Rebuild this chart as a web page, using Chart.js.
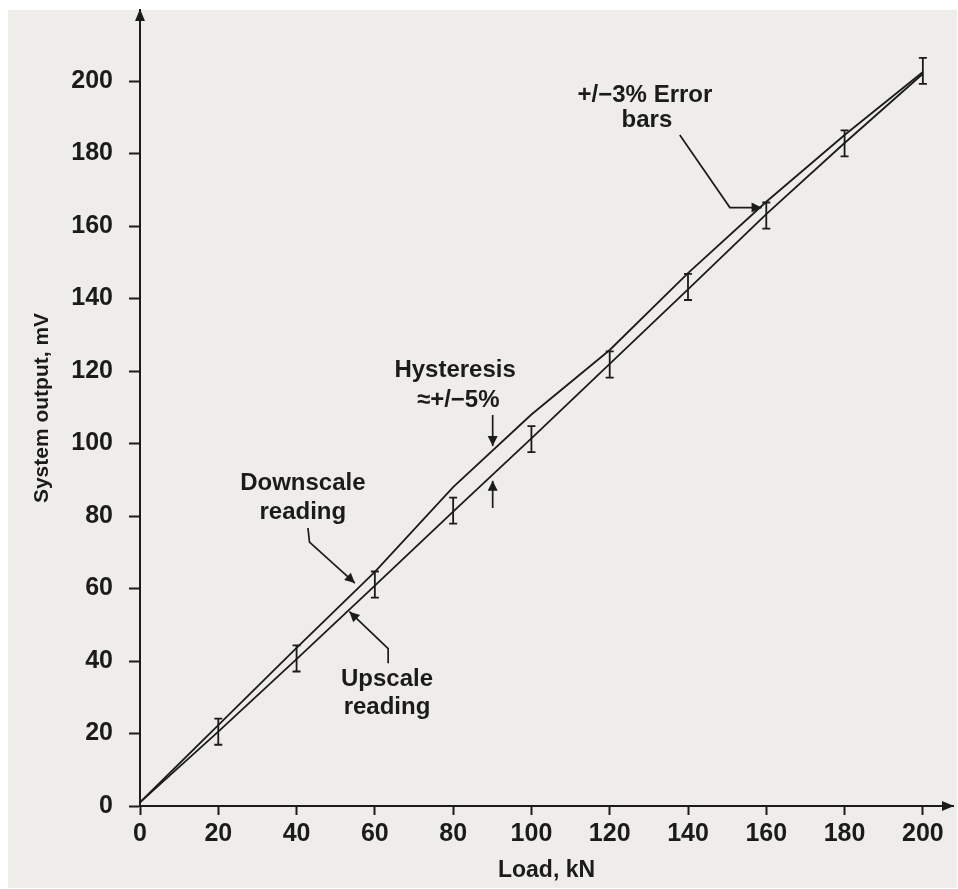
<!DOCTYPE html>
<html lang="en">
<head>
    <meta charset="UTF-8">
    <title>System output vs load</title>
    <script src="https://cdn.jsdelivr.net/npm/chart.js@4.4.0/dist/chart.umd.min.js"></script>
    <style>
        body { margin: 0; background: #ffffff; }
        canvas { display: block; }
    </style>
</head>
<body>
    <canvas id="myChart" width="958" height="889"></canvas>
    <script>
        // readings taken off the scanned figure
        const loads = [0, 20, 40, 60, 80, 100, 120, 140, 160, 180, 200];
        const downscale = [1, 22.3, 43.6, 64.6, 88, 108, 125.8, 147, 166.7, 185.1, 202.5];
        const upscale = [1, 20.5, 40.5, 60.8, 81.2, 101.4, 122, 142.5, 163.3, 182.9, 202];

        // error bars sit on the upscale points
        const errLoads = [20, 40, 60, 80, 100, 120, 140, 160, 180, 200];
        const errCentres = [20.5, 40.7, 61.1, 81.5, 101.2, 121.8, 143.2, 162.9, 182.8, 202.8];
        const errHalf = [3.6, 3.6, 3.6, 3.6, 3.6, 3.6, 3.6, 3.6, 3.6, 3.6];

        const xTicks = [0, 20, 40, 60, 80, 100, 120, 140, 160, 180, 200];
        const yTicks = [0, 20, 40, 60, 80, 100, 120, 140, 160, 180, 200];

        // annotation text and leader lines, in data units
        const notes = [
            { text: '+/\u22123% Error', x: 129.0, y: 196.1 },
            { text: 'bars', x: 129.5, y: 189.2 },
            { text: 'Hysteresis', x: 80.5, y: 120.3 },
            { text: '\u2248+/\u22125%', x: 81.3, y: 112.0 },
            { text: 'Downscale', x: 41.6, y: 89.1 },
            { text: 'reading', x: 41.6, y: 81.1 },
            { text: 'Upscale', x: 63.1, y: 35.0 },
            { text: 'reading', x: 63.1, y: 27.3 }
        ];
        const leaders = [
            [[137.9, 185.1], [150.7, 165.1], [158.8, 165.1]],
            [[90.1, 107.9], [90.1, 99.3]],
            [[90.1, 82.2], [90.1, 89.7]],
            [[42.9, 76.7], [43.3, 72.8], [54.9, 61.5]],
            [[63.4, 39.4], [63.4, 43.4], [53.5, 53.6]]
        ];

        const ink = '#1b1b1b';
        const fontFamily = "'Liberation Sans', Arial, Helvetica, sans-serif";

        function arrowHead(ctx, x0, y0, x1, y1, len, half) {
            const a = Math.atan2(y1 - y0, x1 - x0);
            ctx.beginPath();
            ctx.moveTo(x1, y1);
            ctx.lineTo(x1 - len * Math.cos(a) + half * Math.sin(a), y1 - len * Math.sin(a) - half * Math.cos(a));
            ctx.lineTo(x1 - len * Math.cos(a) - half * Math.sin(a), y1 - len * Math.sin(a) + half * Math.cos(a));
            ctx.closePath();
            ctx.fill();
        }

        const paper = {
            id: 'paper',
            beforeDraw: (chart) => {
                const ctx = chart.ctx;
                ctx.save();
                ctx.fillStyle = '#ffffff';
                ctx.fillRect(0, 0, chart.width, chart.height);
                ctx.fillStyle = '#efede9';
                ctx.fillRect(8, 10, chart.width - 9, chart.height - 11);
                ctx.restore();
            }
        };

        const extras = {
            id: 'extras',
            afterDraw: (chart) => {
                const ctx = chart.ctx;
                const xs = chart.scales.x;
                const ys = chart.scales.y;
                const area = chart.chartArea;
                ctx.save();
                ctx.strokeStyle = ink;
                ctx.fillStyle = ink;

                // axis arrows
                arrowHead(ctx, area.left, area.top + 20, area.left, area.top - 1, 12, 5);
                arrowHead(ctx, area.right - 20, area.bottom, area.right + 1, area.bottom, 12, 5);

                // error bars
                ctx.lineWidth = 1.8;
                errLoads.forEach((l, i) => {
                    const px = xs.getPixelForValue(l);
                    const top = ys.getPixelForValue(errCentres[i] + errHalf[i]);
                    const bot = ys.getPixelForValue(errCentres[i] - errHalf[i]);
                    ctx.beginPath();
                    ctx.moveTo(px, top); ctx.lineTo(px, bot);
                    ctx.moveTo(px - 4, top); ctx.lineTo(px + 4, top);
                    ctx.moveTo(px - 4, bot); ctx.lineTo(px + 4, bot);
                    ctx.stroke();
                });

                // leader lines with arrow tips
                ctx.lineWidth = 1.7;
                leaders.forEach(pts => {
                    const p = pts.map(q => [xs.getPixelForValue(q[0]), ys.getPixelForValue(q[1])]);
                    ctx.beginPath();
                    ctx.moveTo(p[0][0], p[0][1]);
                    for (let i = 1; i < p.length; i++) ctx.lineTo(p[i][0], p[i][1]);
                    ctx.stroke();
                    const n = p.length;
                    arrowHead(ctx, p[n - 2][0], p[n - 2][1], p[n - 1][0], p[n - 1][1], 10, 5);
                });

                // annotation text
                ctx.font = 'bold 24px ' + fontFamily;
                ctx.textAlign = 'center';
                ctx.textBaseline = 'middle';
                notes.forEach(n => {
                    ctx.fillText(n.text, xs.getPixelForValue(n.x), ys.getPixelForValue(n.y));
                });
                ctx.restore();
            }
        };

        const ctx = document.getElementById('myChart').getContext('2d');
        const myChart = new Chart(ctx, {
            type: 'line',
            data: {
                datasets: [{
                    label: 'Downscale reading',
                    data: loads.map((l, i) => ({ x: l, y: downscale[i] })),
                    borderColor: ink,
                    borderWidth: 1.8,
                    pointRadius: 0,
                    tension: 0,
                    fill: false
                }, {
                    label: 'Upscale reading',
                    data: loads.map((l, i) => ({ x: l, y: upscale[i] })),
                    borderColor: ink,
                    borderWidth: 1.8,
                    pointRadius: 0,
                    tension: 0,
                    fill: false
                }]
            },
            plugins: [paper, extras],
            options: {
                responsive: false,
                animation: false,
                layout: { padding: { top: 10, right: 5, left: 0, bottom: 0 } },
                plugins: {
                    legend: { display: false },
                    tooltip: { enabled: false }
                },
                scales: {
                    x: {
                        type: 'linear',
                        min: 0,
                        max: 207.7,
                        afterBuildTicks: (scale) => { scale.ticks = xTicks.map(v => ({ value: v })); },
                        afterFit: (scale) => { scale.height = 83; scale.paddingLeft = 0; scale.paddingRight = 0; },
                        border: { display: true, color: ink, width: 2 },
                        grid: { drawOnChartArea: false, drawTicks: true, tickLength: 9, tickWidth: 2, tickColor: ink },
                        ticks: {
                            color: ink,
                            padding: 4,
                            maxRotation: 0,
                            font: { family: fontFamily, size: 25, weight: 'bold' }
                        },
                        title: {
                            display: true,
                            text: 'Load, kN',
                            color: ink,
                            padding: { top: 0, bottom: 5 },
                            font: { family: fontFamily, size: 23, weight: 'bold' }
                        }
                    },
                    y: {
                        type: 'linear',
                        min: 0,
                        max: 219.6,
                        afterBuildTicks: (scale) => { scale.ticks = yTicks.map(v => ({ value: v })); },
                        afterFit: (scale) => { scale.width = 140; scale.paddingTop = 0; scale.paddingBottom = 0; },
                        border: { display: true, color: ink, width: 2 },
                        grid: { drawOnChartArea: false, drawTicks: true, tickLength: 11, tickWidth: 2, tickColor: ink },
                        ticks: {
                            color: ink,
                            padding: 16,
                            font: { family: fontFamily, size: 25, weight: 'bold' }
                        },
                        title: {
                            display: true,
                            text: 'System output, mV',
                            color: ink,
                            padding: { top: 30, bottom: 0 },
                            font: { family: fontFamily, size: 21, weight: 'bold' }
                        }
                    }
                }
            }
        });
    </script>
</body>
</html>
